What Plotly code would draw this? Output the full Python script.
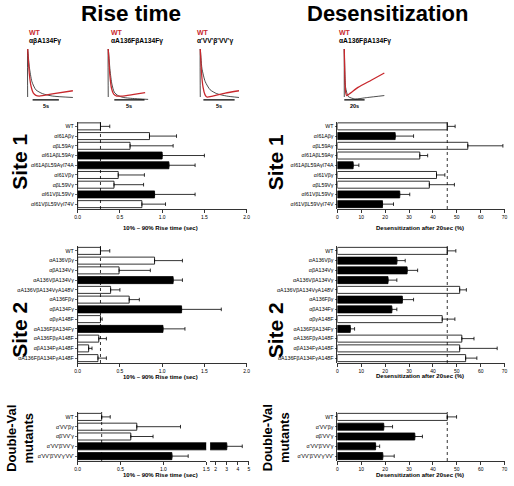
import plotly.graph_objects as go

W, H = 514, 486
FONT = "Liberation Sans, Arial, Helvetica, sans-serif"
RED = "#c8282d"

# ---------------- data ----------------
site1_labels = ["WT", "αI61Aβγ", "αβL59Aγ", "αI61AβL59Aγ", "αI61AβL59AγI74A",
                "αI61Vβγ", "αβL59Vγ", "αI61VβL59Vγ", "αI61VβL59VγI74V"]
site2_labels = ["WT", "αA136Vβγ", "αβA134Vγ", "αA136VβA134Vγ", "αA136VβA134VγA148V",
                "αA136Fβγ", "αβA134Fγ", "αβγA148F", "αA136FβA134Fγ",
                "αA136FβγA148F", "αβA134FγA148F", "αA136FβA134FγA148F"]
dv_labels = ["WT", "α'VV'βγ", "αβ'VV'γ", "α'VV'β'VV'γ", "α'VV'β'VV'γ'VV'"]

rise_s1 = [0.27, 0.85, 0.62, 1.00, 1.08, 0.48, 0.43, 0.91, 0.76]
rise_s1_sem = [0.11, 0.32, 0.51, 0.50, 0.31, 0.31, 0.35, 0.48, 0.28]
rise_s1_sig = [0, 0, 0, 1, 1, 0, 0, 1, 0]

des_s1 = [46.0, 24.2, 54.6, 34.5, 6.6, 41.5, 38.5, 26.1, 18.9]
des_s1_sem = [3.3, 7.7, 14.7, 3.3, 2.4, 3.5, 10.5, 4.2, 4.6]
des_s1_sig = [0, 1, 0, 0, 1, 0, 0, 1, 1]

rise_s2 = [0.27, 0.91, 0.49, 1.13, 0.39, 0.61, 1.23, 0.27, 1.01, 0.25, 0.13, 0.24]
rise_s2_sem = [0.11, 0.33, 0.37, 0.11, 0.11, 0.12, 0.47, 0.02, 0.26, 0.09, 0.04, 0.10]
rise_s2_sig = [0, 0, 0, 1, 0, 0, 1, 0, 1, 0, 0, 0]

des_s2 = [46.0, 24.9, 29.2, 21.2, 51.2, 27.2, 22.8, 43.9, 5.4, 52.1, 51.2, 53.7]
des_s2_sem = [3.6, 3.5, 4.4, 3.7, 2.8, 4.7, 2.1, 5.3, 1.8, 5.1, 15.7, 4.7]
des_s2_sig = [0, 1, 1, 1, 0, 1, 1, 0, 1, 0, 0, 0]

rise_dv = [0.28, 0.69, 0.62, 3.0, 1.10]
rise_dv_sem = [0.10, 0.51, 0.26, 1.4, 0.19]
rise_dv_sig = [0, 0, 0, 1, 1]

des_dv = [46.0, 19.4, 32.4, 16.0, 19.0]
des_dv_sem = [3.9, 3.7, 3.2, 1.7, 4.8]
des_dv_sig = [0, 1, 1, 1, 1]

# example traces (time in s, normalised current)
tr1_t_red = [0, 0.31, 0.63, 1.06, 1.56, 2.2, 5.0, 8.6]
tr1_y_red = [1, 0.49, 0.23, 0.085, 0.035, 0.02, 0.07, 0.13]
tr1_t_blk = [0, 0.31, 0.81, 1.56, 2.81, 4.69, 8.6]
tr1_y_blk = [1, 0.63, 0.32, 0.15, 0.07, 0.02, -0.01]

tr2_t_red = [0, 0.27, 0.54, 0.9, 1.4, 2.2, 4.0, 6.1]
tr2_y_red = [1, 0.45, 0.18, 0.06, 0.02, 0.02, 0.05, 0.09]
tr2_t_blk = [0, 0.3, 0.6, 1.0, 1.6, 2.5, 4.0, 6.6]
tr2_y_blk = [1, 0.55, 0.27, 0.1, 0.03, -0.01, -0.03, -0.05]

tr3_t_red = [0, 0.2, 0.45, 0.75, 1.05, 2.0, 4.0, 6.2]
tr3_y_red = [1, 0.5, 0.2, 0.05, 0.0, 0.02, 0.08, 0.13]
tr3_t_blk = [0, 0.26, 0.79, 1.58, 2.63, 4.2, 6.2]
tr3_y_blk = [1, 0.6, 0.32, 0.15, 0.07, 0.02, -0.01]

tr4_t_red = [0, 0.6, 1.3, 2.3, 6.0, 13.5, 26.5, 39.4]
tr4_y_red = [1, 0.4, 0.1, 0.03, 0.08, 0.2, 0.35, 0.5]
tr4_t_blk = [0, 0.6, 1.3, 3.9, 10.3, 23.0, 39.4]
tr4_y_blk = [1, 0.5, 0.2, 0.01, -0.04, -0.01, 0.03]

rise_title = "10% – 90% Rise time (sec)"
des_title = "Desensitization after 20sec (%)"
rise_ticks = [0, 0.5, 1.0, 1.5, 2.0]
des_ticks = [0, 10, 20, 30, 40, 50, 60, 70]


def fx(p):
    return p / W


def fy(p):
    return 1 - p / H


fig = go.Figure()
layout = {}
shapes = []
annotations = []


def axname(kind, n):
    return f"{kind}axis" if n == 1 else f"{kind}axis{n}"


def axref(kind, n):
    return kind if n == 1 else f"{kind}{n}"


def add_panel(n, labels, vals, sems, sig, xpx, ypx, xrange, tickvals, ticktext,
              yshare=None, wt_line=True):
    yn = yshare if yshare else n
    xa, ya = axref("x", n), axref("y", yn)
    colors = ["black" if s else "white" for s in sig]
    fig.add_trace(go.Bar(
        y=labels, x=vals, orientation="h", xaxis=xa, yaxis=ya,
        marker=dict(color=colors, line=dict(color="black", width=0.8)),
        error_x=dict(type="data", symmetric=False, array=sems,
                     arrayminus=[0] * len(sems), color="black",
                     thickness=0.8, width=1.8),
        showlegend=False, hoverinfo="skip"))
    layout[axname("x", n)] = dict(
        domain=[fx(xpx[0]), fx(xpx[1])], anchor=ya, range=xrange,
        tickmode="array", tickvals=tickvals, ticktext=ticktext,
        showline=True, linecolor="black", linewidth=0.8, ticks="outside",
        ticklen=3, tickwidth=0.8, tickcolor="black",
        tickfont=dict(size=5, color="black"), showgrid=False,
        zeroline=False, fixedrange=True)
    if not yshare:
        layout[axname("y", n)] = dict(
            domain=[fy(ypx[1]), fy(ypx[0])], anchor=xa, type="category",
            categoryorder="array", categoryarray=labels, autorange="reversed",
            tickmode="array", tickvals=labels, ticktext=labels,
            showline=True, linecolor="black", linewidth=0.8,
            ticks="outside", ticklen=2, tickwidth=0.6, tickcolor="black",
            tickfont=dict(size=5.3, color="black"), showgrid=False,
            zeroline=False, fixedrange=True)
    if wt_line:
        shapes.append(dict(type="line", xref=xa, yref=f"{ya} domain",
                           x0=vals[0], x1=vals[0], y0=0, y1=1,
                           line=dict(color="black", width=0.8, dash="dot")))


fmt1 = lambda v: f"{v:.1f}"
RISE_X = (75.7, 247)
DES_X = (339, 508.5)

add_panel(1, site1_labels, rise_s1, rise_s1_sem, rise_s1_sig, RISE_X, (121.5, 209),
          [0, 2], rise_ticks, [fmt1(v) for v in rise_ticks])
add_panel(2, site1_labels, des_s1, des_s1_sem, des_s1_sig, DES_X, (121.5, 209),
          [0, 70], des_ticks, [str(v) for v in des_ticks])
add_panel(3, site2_labels, rise_s2, rise_s2_sem, rise_s2_sig, RISE_X, (246, 363),
          [0, 2], rise_ticks, [fmt1(v) for v in rise_ticks])
add_panel(4, site2_labels, des_s2, des_s2_sem, des_s2_sig, DES_X, (246, 363),
          [0, 70], des_ticks, [str(v) for v in des_ticks])
seg1 = [0, 0.5, 1.0, 1.5]
seg2 = [2, 3, 4, 5]
add_panel(5, dv_labels, rise_dv, rise_dv_sem, rise_dv_sig, (75.7, 206), (412, 461),
          [0, 1.5], seg1, [fmt1(v) for v in seg1])
add_panel(6, dv_labels, rise_dv, rise_dv_sem, rise_dv_sig, (210, 249.3), (412, 461),
          [1.5, 5], seg2, [str(v) for v in seg2], yshare=5, wt_line=False)
add_panel(7, dv_labels, des_dv, des_dv_sem, des_dv_sig, DES_X, (412, 461),
          [0, 70], des_ticks, [str(v) for v in des_ticks])


def add_inset(n, zero_px, px_per_s, t_lo, t_hi, tr_red, yr_red, tr_blk, yr_blk,
              bar0, bar1, bar_label, top_label, label_x):
    xa, ya = axref("x", n), axref("y", n)
    layout[axname("x", n)] = dict(
        domain=[fx(zero_px + t_lo * px_per_s), fx(zero_px + t_hi * px_per_s)],
        range=[t_lo, t_hi], visible=False, anchor=ya, fixedrange=True)
    y_lo, y_hi = -0.25, 1.05
    ppu = 48.0
    layout[axname("y", n)] = dict(
        domain=[fy(97 - y_lo * ppu), fy(97 - y_hi * ppu)],
        range=[y_lo, y_hi], visible=False, anchor=xa, fixedrange=True)
    fig.add_trace(go.Scatter(x=[0] + tr_blk, y=[0] + yr_blk, mode="lines",
                             xaxis=xa, yaxis=ya, showlegend=False,
                             hoverinfo="skip",
                             line=dict(color="black", width=0.7, shape="spline",
                                       smoothing=0.6)))
    fig.add_trace(go.Scatter(x=tr_red, y=yr_red, mode="lines",
                             xaxis=xa, yaxis=ya, showlegend=False,
                             hoverinfo="skip",
                             line=dict(color=RED, width=1.3, shape="spline",
                                       smoothing=0.6)))
    shapes.append(dict(type="line", xref=xa, yref=ya, x0=bar0, x1=bar1,
                       y0=-0.06, y1=-0.06, line=dict(color="black", width=1.2)))
    annotations.append(dict(xref=xa, yref="paper", x=(bar0 + bar1) / 2,
                            y=fy(106.5), text=bar_label, showarrow=False,
                            font=dict(size=5.5, family=FONT, color="black",
                                      weight="bold"),
                            xanchor="center", yanchor="middle"))
    annotations.append(dict(xref="paper", yref="paper", x=fx(label_x), y=fy(32),
                            text="WT", showarrow=False,
                            font=dict(size=7, family=FONT, color=RED, weight="bold"),
                            xanchor="left", yanchor="middle"))
    annotations.append(dict(xref="paper", yref="paper", x=fx(label_x), y=fy(41),
                            text=top_label, showarrow=False,
                            font=dict(size=6.7, family=FONT, color="black",
                                      weight="bold"),
                            xanchor="left", yanchor="middle"))


add_inset(8, 25, 5.33, -0.6, 9.0, tr1_t_red, tr1_y_red, tr1_t_blk, tr1_y_blk,
          0.94, 5.94, "5s", "αβA134Fγ", 24)
add_inset(9, 106.7, 6.13, -0.5, 7.8, tr2_t_red, tr2_y_red, tr2_t_blk, tr2_y_blk,
          1.0, 6.0, "5s", "αA136FβA134Fγ", 107)
add_inset(10, 200, 6.33, -0.5, 6.8, tr3_t_red, tr3_y_red, tr3_t_blk, tr3_y_blk,
          0.5, 5.5, "5s", "α'VV'β'VV'γ", 195)
add_inset(11, 346, 1.03, -2, 41, tr4_t_red, tr4_y_red, tr4_t_blk, tr4_y_blk,
          0, 20, "20s", "αA136FβA134Fγ", 339)

# axis titles
for ypos in (228, 377, 475):
    annotations.append(dict(xref="paper", yref="paper", x=fx(160), y=fy(ypos),
                            text=rise_title, showarrow=False,
                            font=dict(size=6, family=FONT, color="black",
                                      weight="bold"),
                            xanchor="center", yanchor="middle"))
for ypos in (228, 376, 475):
    annotations.append(dict(xref="paper", yref="paper", x=fx(423), y=fy(ypos),
                            text=des_title, showarrow=False,
                            font=dict(size=6, family=FONT, color="black",
                                      weight="bold"),
                            xanchor="center", yanchor="middle"))

# column titles
annotations.append(dict(xref="paper", yref="paper", x=fx(130), y=fy(13),
                        text="Rise time", showarrow=False, borderpad=0,
                        font=dict(size=22.5, family=FONT, color="black", weight="bold"),
                        xanchor="center", yanchor="middle"))
annotations.append(dict(xref="paper", yref="paper", x=fx(390), y=fy(13),
                        text="Desensitization", showarrow=False, borderpad=0,
                        font=dict(size=22, family=FONT, color="black", weight="bold"),
                        xanchor="center", yanchor="middle"))

# row labels
for xpos in (17, 277):
    annotations.append(dict(xref="paper", yref="paper", x=fx(xpos), y=fy(162),
                            text="Site 1", showarrow=False, textangle=-90,
                            font=dict(size=21, family=FONT, color="black",
                                      weight="bold"),
                            xanchor="center", yanchor="middle"))
    annotations.append(dict(xref="paper", yref="paper", x=fx(xpos - 1), y=fy(330),
                            text="Site 2", showarrow=False, textangle=-90,
                            font=dict(size=21, family=FONT, color="black",
                                      weight="bold"),
                            xanchor="center", yanchor="middle"))
    annotations.append(dict(xref="paper", yref="paper", x=fx(xpos), y=fy(438),
                            text="Double-Val<br>mutants", showarrow=False,
                            textangle=-90,
                            font=dict(size=13, family=FONT, color="black",
                                      weight="bold"),
                            xanchor="center", yanchor="middle"))

layout.update(dict(
    width=W, height=H, autosize=False,
    margin=dict(l=0, r=0, t=0, b=0),
    paper_bgcolor="white", plot_bgcolor="white",
    bargap=0.28, showlegend=False,
    font=dict(family=FONT, color="black"),
    shapes=shapes, annotations=annotations,
))
fig.update_layout(**layout)
fig.write_html("out.html",
               config={"displayModeBar": False, "staticPlot": True},
               post_script="document.body.style.margin='0px';"
                           "document.body.style.overflow='hidden';")
